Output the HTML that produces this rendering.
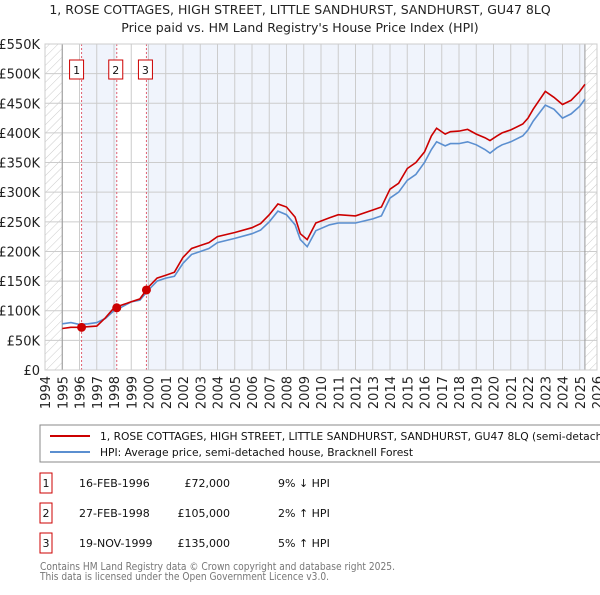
<!DOCTYPE html>
<html><head><meta charset="utf-8"><style>
body{margin:0;width:600px;height:590px;background:#fff;font-family:"Liberation Sans","DejaVu Sans",sans-serif;overflow:hidden}
svg text{font-family:"DejaVu Sans","Liberation Sans",sans-serif}
</style></head><body>
<svg id="c" width="600" height="590">
<defs><pattern id="hatch" width="6" height="6" patternUnits="userSpaceOnUse" patternTransform="rotate(45)"><line x1="0" y1="0" x2="0" y2="6" stroke="#ccc" stroke-width="1"/></pattern></defs>
<text x="300" y="14" text-anchor="middle" font-size="12.5" fill="#222">1, ROSE COTTAGES, HIGH STREET, LITTLE SANDHURST, SANDHURST, GU47 8LQ</text>
<text x="300" y="32" text-anchor="middle" font-size="12.5" fill="#222">Price paid vs. HM Land Registry's House Price Index (HPI)</text>
<g id="plot"></g>
<rect x="40" y="425" width="565" height="37" fill="#fff" stroke="#888"/>
<line x1="50" y1="436" x2="90" y2="436" stroke="#cc0000" stroke-width="2"/>
<text x="100" y="440" font-size="10.7" fill="#111">1, ROSE COTTAGES, HIGH STREET, LITTLE SANDHURST, SANDHURST, GU47 8LQ (semi-detached house)</text>
<line x1="50" y1="452" x2="90" y2="452" stroke="#5b8fd0" stroke-width="2"/>
<text x="100" y="456" font-size="10.7" fill="#111">HPI: Average price, semi-detached house, Bracknell Forest</text>
<g id="table" font-size="11" fill="#111"></g>
<text x="40" y="570" font-size="11" fill="#777" textLength="355" lengthAdjust="spacingAndGlyphs">Contains HM Land Registry data © Crown copyright and database right 2025.</text>
<text x="40" y="580" font-size="11" fill="#777" textLength="289" lengthAdjust="spacingAndGlyphs">This data is licensed under the Open Government Licence v3.0.</text>
</svg>
<script>
const yTicks=[0,50,100,150,200,250,300,350,400,450,500,550];
const yTickLabels=["£0","£50K","£100K","£150K","£200K","£250K","£300K","£350K","£400K","£450K","£500K","£550K"];
const years=[1994,1995,1996,1997,1998,1999,2000,2001,2002,2003,2004,2005,2006,2007,2008,2009,2010,2011,2012,2013,2014,2015,2016,2017,2018,2019,2020,2021,2022,2023,2024,2025,2026];
const hpiT=[1995,1995.5,1996,1996.5,1997,1997.5,1998,1998.5,1999,1999.5,2000,2000.5,2001,2001.5,2002,2002.5,2003,2003.5,2004,2005,2006,2006.5,2007,2007.5,2008,2008.5,2008.8,2009.2,2009.7,2010.5,2011,2012,2013,2013.5,2014,2014.5,2015,2015.5,2016,2016.4,2016.7,2017.2,2017.5,2018,2018.5,2019,2019.5,2019.8,2020.2,2020.5,2021,2021.7,2022,2022.3,2023,2023.5,2024,2024.5,2025,2025.3];
const hpiV=[78,80,77,78,80,87,100,107,115,118,135,150,155,158,180,195,200,205,215,222,230,236,250,268,262,245,220,208,235,245,248,248,255,260,290,300,320,330,350,372,385,378,382,382,385,380,372,366,375,380,385,395,405,420,447,440,425,432,445,457];
const priceT=[1995,1995.5,1996,1996.5,1997,1997.5,1998,1998.5,1999,1999.5,2000,2000.5,2001,2001.5,2002,2002.5,2003,2003.5,2004,2005,2006,2006.5,2007,2007.5,2008,2008.5,2008.8,2009.2,2009.7,2010.5,2011,2012,2013,2013.5,2014,2014.5,2015,2015.5,2016,2016.4,2016.7,2017.2,2017.5,2018,2018.5,2019,2019.5,2019.8,2020.2,2020.5,2021,2021.7,2022,2022.3,2023,2023.5,2024,2024.5,2025,2025.3];
const priceV=[70,72,72,73,74,88,105,110,115,120,140,155,160,165,190,205,210,215,225,232,240,247,262,280,275,258,230,220,248,257,262,260,270,275,305,315,340,350,368,395,408,398,402,403,406,398,392,387,395,400,405,415,425,440,470,460,448,455,470,482];
const saleT=[1996.12,1998.16,1999.88];
const saleV=[72,105,135];
const saleLabels=["1","2","3"];
const saleDates=["16-FEB-1996","27-FEB-1998","19-NOV-1999"];
const salePrices=["£72,000","£105,000","£135,000"];
const saleHpi=["9% ↓ HPI","2% ↑ HPI","5% ↑ HPI"];
const X0=45,X1=597,Y0=370,Y1=44;
const xs=t=>X0+(t-1994)/32*(X1-X0);
const ys=v=>Y0-v/550*(Y0-Y1);
const NS="http://www.w3.org/2000/svg";
const g=document.getElementById('plot');
function mk(tag,a,p){const e=document.createElementNS(NS,tag);for(const k in a)e.setAttribute(k,a[k]);(p||g).appendChild(e);return e;}
let e;
e=mk('rect',{x:X0,y:Y1,width:X1-X0,height:Y0-Y1,fill:'#fff'});
e=mk('rect',{x:xs(saleT[0]),y:Y1,width:xs(saleT[1])-xs(saleT[0]),height:Y0-Y1,fill:'#f0f4fc'});


e=mk('rect',{x:xs(saleT[2]),y:Y1,width:xs(2025.3)-xs(saleT[2]),height:Y0-Y1,fill:'#f0f4fc'});


e=mk('rect',{x:X0,y:Y1,width:xs(1995)-X0,height:Y0-Y1,fill:'url(#hatch)'});


e=mk('rect',{x:xs(2025.3),y:Y1,width:X1-xs(2025.3),height:Y0-Y1,fill:'url(#hatch)'});


yTicks.forEach((v,i)=>{
 e=mk('line',{x1:X0,x2:X1,y1:ys(v),y2:ys(v),stroke:'#ccc'});
 
 
 e=mk('text',{x:40,y:ys(v)+5,'text-anchor':'end','font-size':13,fill:'#222'});e.textContent=yTickLabels[i];
 
 
});
years.forEach(yr=>{
 e=mk('line',{x1:xs(yr),x2:xs(yr),y1:Y1,y2:Y0,stroke:'#ccc'});
 
 
 const tx=xs(yr)+5,ty=Y0+6;
 e=mk('text',{x:tx,y:ty,'text-anchor':'end','font-size':13,fill:'#222',transform:`rotate(-90 ${tx} ${ty})`});e.textContent=yr;
 
 
});
e=mk('line',{x1:xs(1995),x2:xs(1995),y1:Y1,y2:Y0,stroke:'#999'});
e=mk('line',{x1:xs(2025.3),x2:xs(2025.3),y1:Y1,y2:Y0,stroke:'#999'});
saleT.forEach((t,i)=>{
 e=mk('line',{x1:xs(t),x2:xs(t),y1:Y1,y2:Y0,stroke:'#e06070','stroke-dasharray':'2,2'});
 
 
 e=mk('rect',{x:xs(t)-8-(i==0?4:0),y:60,width:14,height:19,fill:'#fff',stroke:'#cc0000'});
 
 
 e=mk('text',{x:xs(t)-1-(i==0?4:0),y:74,'text-anchor':'middle','font-size':11,fill:'#111'});e.textContent=saleLabels[i];
});
const pathOf=(T,V)=>T.map((t,i)=>(i?'L':'M')+xs(t).toFixed(1)+','+ys(V[i]).toFixed(1)).join('');
e=mk('path',{d:pathOf(hpiT,hpiV),fill:'none',stroke:'#5b8fd0','stroke-width':1.6});


e=mk('path',{d:pathOf(priceT,priceV),fill:'none',stroke:'#cc0000','stroke-width':1.6});


saleT.forEach((t,i)=>{
 e=mk('circle',{cx:xs(t),cy:ys(saleV[i]),r:4.5,fill:'#cc0000'});
 
 
});
e=mk('rect',{x:X0,y:Y1,width:X1-X0,height:Y0-Y1,fill:'none',stroke:'#ccc'});
const tb=document.getElementById('table');
saleT.forEach((t,i)=>{
 const y=483+i*30;
 e=mk('rect',{x:40,y:y-10,width:12,height:20,fill:'#fff',stroke:'#cc0000'},tb);
 
 
 e=mk('text',{x:46,y:y+4,'text-anchor':'middle'},tb);e.textContent=saleLabels[i];
 e=mk('text',{x:79,y:y+4},tb);e.textContent=saleDates[i];
 
 
 e=mk('text',{x:230,y:y+4,'text-anchor':'end'},tb);e.textContent=salePrices[i];
 
 
 e=mk('text',{x:278,y:y+4},tb);e.textContent=saleHpi[i];
 
 
});
</script>
</body></html>
